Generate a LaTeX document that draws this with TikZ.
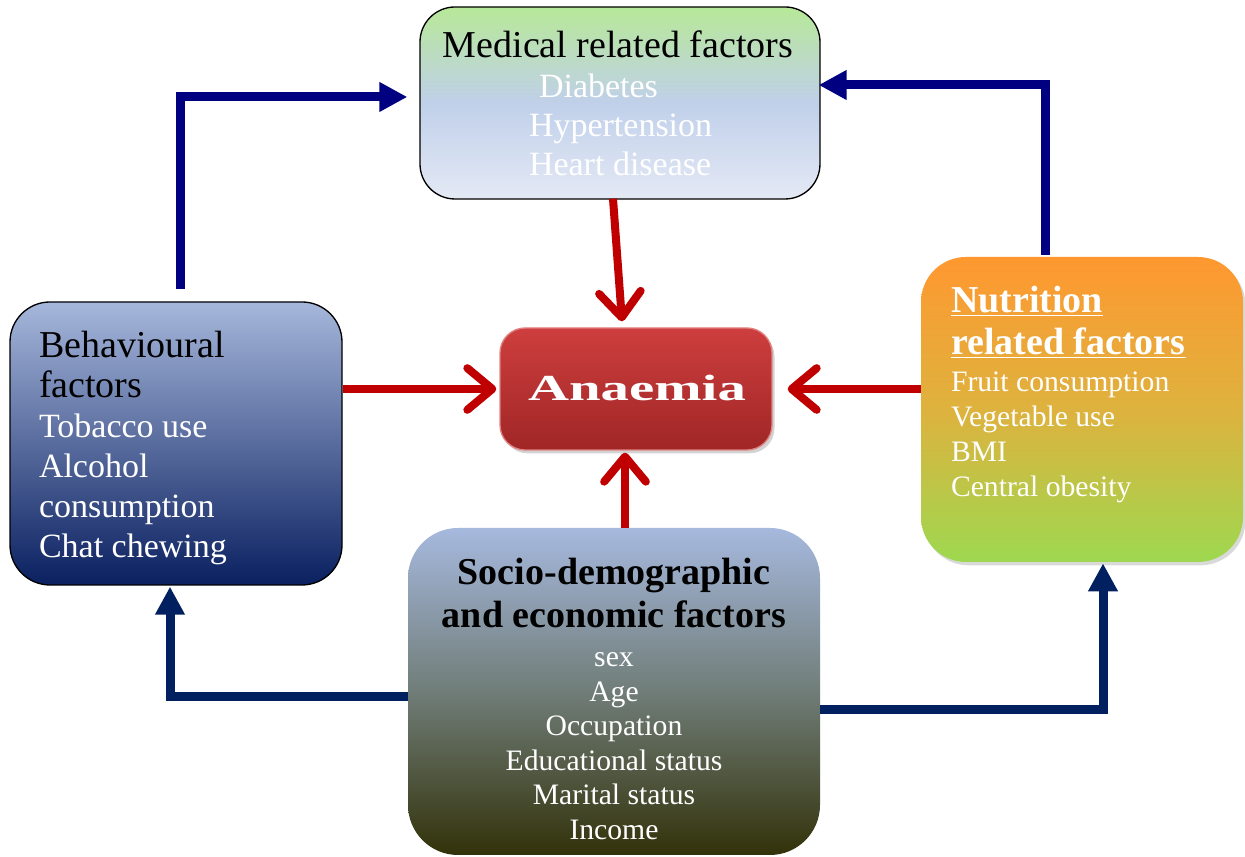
\documentclass[tikz,border=0pt]{standalone}
\usepackage{fontspec}
\setmainfont{Liberation Serif}
\usepackage{graphicx}
\usetikzlibrary{arrows.meta,calc,shadows}

\definecolor{navyA}{RGB}{0,0,128}
\definecolor{navyB}{RGB}{0,32,96}
\definecolor{arrRed}{RGB}{192,0,0}
\definecolor{medTop}{RGB}{183,232,152}
\definecolor{medMid}{RGB}{192,208,234}
\definecolor{medBot}{RGB}{228,233,245}
\definecolor{behTop}{RGB}{166,183,219}
\definecolor{behBot}{RGB}{10,32,96}
\definecolor{nutTop}{RGB}{255,152,48}
\definecolor{nutMid}{RGB}{222,178,62}
\definecolor{nutBot}{RGB}{158,216,80}
\definecolor{socTop}{RGB}{166,185,222}
\definecolor{socMid}{RGB}{112,125,120}
\definecolor{socBot}{RGB}{50,50,10}
\definecolor{anaTop}{RGB}{206,62,62}
\definecolor{anaBot}{RGB}{160,38,38}
\definecolor{anaEdge}{RGB}{225,130,130}

\newcommand\fsTitle{\fontsize{22.8pt}{27pt}\selectfont}
\newcommand\fsItem{\fontsize{20.4pt}{24pt}\selectfont}
\newcommand\fsSmall{\fontsize{17.8pt}{21pt}\selectfont}

\tikzset{
  boxbase/.style={rectangle, inner sep=0pt},
  lbl/.style={inner sep=0pt, outer sep=0pt},
  redarrow/.style={draw=arrRed, line width=4.8pt,
    -{Straight Barb[length=15pt,width=25pt,round]}},
  bluearrow/.style={line width=5.4pt, line join=miter,
    -{Triangle[length=16.8pt,width=16.8pt]}}
}

\begin{document}
\begin{tikzpicture}[x=0.6pt,y=0.6pt]
\useasboundingbox (0,0) rectangle (1245,857);

% boxes
\node[boxbase, minimum width=240pt, minimum height=115.2pt, rounded corners=21pt,
  draw=black, line width=0.8pt, top color=medTop, bottom color=medBot, middle color=medMid]
  (med) at (620,754) {};
\node[boxbase, minimum width=199.2pt, minimum height=169.8pt, rounded corners=24pt,
  draw=black, line width=0.8pt, top color=behTop, bottom color=behBot]
  (beh) at (176,413.5) {};
\node[boxbase, minimum width=193.2pt, minimum height=183pt, rounded corners=27pt,
  drop shadow={opacity=0.3, shadow xshift=1.5pt, shadow yshift=-2pt},
  top color=nutTop, bottom color=nutBot, middle color=nutMid]
  (nut) at (1082,447.5) {};
\node[boxbase, minimum width=247.2pt, minimum height=196.2pt, rounded corners=30pt,
  top color=socTop, bottom color=socBot, middle color=socMid]
  (soc) at (614,165.5) {};
\node[boxbase, minimum width=163.2pt, minimum height=73.2pt, rounded corners=15pt,
  draw=anaEdge, line width=0.8pt,
  drop shadow={opacity=0.35, shadow xshift=1.5pt, shadow yshift=-2pt},
  top color=anaTop, bottom color=anaBot]
  (ana) at (636,468) {};

% texts: medical
\node[lbl, anchor=base] (medT) at (618,799) {\fsTitle Medical related factors};
\node[lbl, anchor=base west, text=white] (med1) at (539,759) {\fsItem Diabetes};
\node[lbl, anchor=base west, text=white] (med2) at (529,720) {\fsItem Hypertension};
\node[lbl, anchor=base west, text=white] (med3) at (529,681) {\fsItem Heart disease};

% behavioural
\node[lbl, anchor=base west] (behT1) at (39,499) {\fsTitle Behavioural};
\node[lbl, anchor=base west] (behT2) at (39,459) {\fsTitle factors};
\node[lbl, anchor=base west, text=white] (beh1) at (39,419) {\fsItem Tobacco use};
\node[lbl, anchor=base west, text=white] (beh2) at (39,379) {\fsItem Alcohol};
\node[lbl, anchor=base west, text=white] (beh3) at (39,339) {\fsItem consumption};
\node[lbl, anchor=base west, text=white] (beh4) at (39,299) {\fsItem Chat chewing};

% nutrition
\node[lbl, anchor=base west, text=white] (nutT1) at (951,544) {\fsTitle\bfseries \underline{Nutrition}};
\node[lbl, anchor=base west, text=white] (nutT2) at (951,502) {\fsTitle\bfseries \underline{related factors}};
\node[lbl, anchor=base west, text=white] (nut1) at (951,465) {\fsSmall Fruit consumption};
\node[lbl, anchor=base west, text=white] (nut2) at (951,430) {\fsSmall Vegetable use};
\node[lbl, anchor=base west, text=white] (nut3) at (951,395) {\fsSmall BMI};
\node[lbl, anchor=base west, text=white] (nut4) at (951,360) {\fsSmall Central obesity};

% socio
\node[lbl, anchor=base] (socT1) at (614,272) {\fsTitle\bfseries Socio-demographic};
\node[lbl, anchor=base] (socT2) at (614,229) {\fsTitle\bfseries and economic factors};
\node[lbl, anchor=base, text=white] (soc1) at (614,190) {\fsSmall sex};
\node[lbl, anchor=base, text=white] (soc2) at (614,155) {\fsSmall Age};
\node[lbl, anchor=base, text=white] (soc3) at (614,121) {\fsSmall Occupation};
\node[lbl, anchor=base, text=white] (soc4) at (614,86) {\fsSmall Educational status};
\node[lbl, anchor=base, text=white] (soc5) at (614,52) {\fsSmall Marital status};
\node[lbl, anchor=base, text=white] (soc6) at (614,17) {\fsSmall Income};

% anaemia
\node[lbl, anchor=base, text=white] (anaT) at (637,456)
  {\scalebox{1.55}[1]{\fontsize{22pt}{26pt}\selectfont\bfseries Anaemia}};

% red arrows
\draw[redarrow] ($(med.south)+(-7,1)$) -- ($(ana.north)+(-14,6)$);
\draw[redarrow] (beh.east |- ana.west) -- ($(ana.west)+(-3,0)$);
\draw[redarrow] (nut.west |- ana.east) -- ($(ana.east)+(15,0)$);
\draw[redarrow] ($(soc.north)+(11,0)$) -- ($(ana.south)+(-11,-2)$);

% blue arrows
\coordinate (bA) at ($(beh.north)+(4,12)$);
\coordinate (mA) at ($(med.west)+(-12,6)$);
\draw[bluearrow, navyA] (bA) |- (mA);

\coordinate (nA) at ($(nut.north)+(-37,2)$);
\coordinate (mB) at ($(med.east)+(-2,18)$);
\draw[bluearrow, navyA] (nA) |- (mB);

\coordinate (sA) at ($(soc.west)+(0,-5.5)$);
\coordinate (bB) at ($(beh.south)+(-6,-1)$);
\draw[bluearrow, navyB] (sA) -| (bB);

\coordinate (sB) at ($(soc.east)+(0,-18.5)$);
\coordinate (nB) at ($(nut.south)+(21,-1)$);
\draw[bluearrow, navyB] (sB) -| (nB);
\end{tikzpicture}
\end{document}
